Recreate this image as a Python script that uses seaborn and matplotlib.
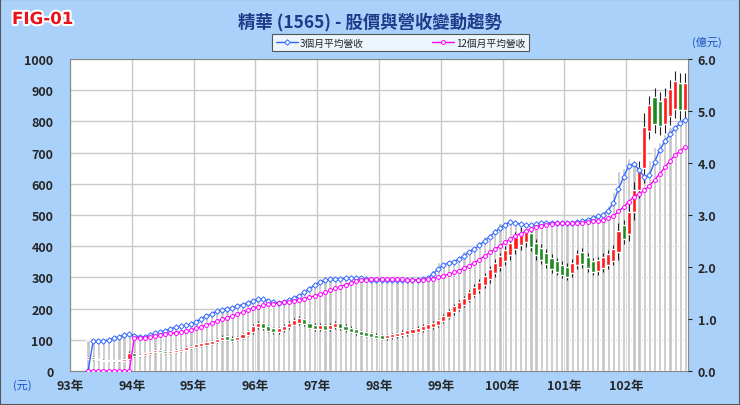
import numpy as np
import pandas as pd
import matplotlib
matplotlib.use("Agg")
import matplotlib.pyplot as plt
import matplotlib.patheffects as pe
import seaborn as sns

sns.set_style("white")
plt.rcParams['font.family'] = ['Noto Sans CJK TC', 'DejaVu Sans']

year_labels = ["93年", "94年", "95年", "96年", "97年", "98年", "99年", "100年", "101年", "102年"]
# monthly revenue (億元), 93/04 .. 102/12
revenue = [
    0.60, 0.55, 0.58, 0.60, 0.62, 0.66, 0.70, 0.72, 0.70,                       # 93
    0.62, 0.66, 0.70, 0.72, 0.75, 0.78, 0.80, 0.85, 0.88, 0.85, 0.90, 0.95,     # 94
    1.00, 1.05, 1.10, 1.15, 1.20, 1.18, 1.22, 1.25, 1.28, 1.30, 1.35, 1.40,     # 95
    1.38, 1.35, 1.32, 1.30, 1.33, 1.36, 1.40, 1.45, 1.50, 1.58, 1.65, 1.72,     # 96
    1.75, 1.76, 1.78, 1.78, 1.77, 1.79, 1.80, 1.78, 1.76, 1.74, 1.75, 1.76,     # 97
    1.75, 1.74, 1.75, 1.76, 1.75, 1.74, 1.75, 1.76, 1.78, 1.85, 1.95, 2.10,     # 98
    2.05, 2.10, 2.15, 2.20, 2.30, 2.35, 2.40, 2.50, 2.60, 2.65, 2.75, 2.85,     # 99
    2.85, 2.88, 2.82, 2.78, 2.80, 2.83, 2.85, 2.86, 2.84, 2.85, 2.86, 2.85,     # 100
    2.85, 2.86, 2.88, 2.90, 2.95, 2.97, 3.00, 3.05, 3.20, 3.45, 3.85, 3.90,     # 101
    4.10, 3.95, 3.55, 3.70, 4.05, 4.30, 4.40, 4.55, 4.70, 4.75, 4.85, 4.90,     # 102
]
# monthly closing price (元)
close = [
    45, 38, 35, 34, 33, 32, 33, 40, 58,
    48, 52, 55, 60, 68, 62, 60, 62, 66, 70, 75, 80,
    82, 86, 90, 95, 102, 108, 104, 100, 108, 118, 125, 145,
    150, 140, 132, 128, 134, 142, 152, 160, 165, 150, 142, 140,
    142, 138, 145, 150, 140, 135, 130, 125, 120, 118, 112, 110,
    108, 112, 115, 118, 122, 126, 130, 135, 140, 145, 150, 160,
    175, 190, 205, 215, 230, 250, 265, 280, 300, 320, 340, 360,
    380, 400, 420, 430, 440, 400, 380, 370, 350, 340, 330, 320,
    317, 345, 370, 355, 340, 330, 345, 350, 365, 380, 450, 440,
    510, 580, 650, 782, 840, 830, 820, 850, 870, 900, 860, 900,
]
open_ = [40] + close[:-1]
months = np.arange(3, 120) + 0.5

df = pd.DataFrame({"m": months, "rev": revenue, "close": close, "open": open_})
df["ma3"] = df["rev"].rolling(3, min_periods=2).mean().fillna(0)
df["ma12"] = df["rev"].rolling(12, min_periods=10).mean().fillna(0)
k = 1000 / 6.0
df["rev_s"] = df["rev"] * k
df["ma3_s"] = df["ma3"] * k
df["ma12_s"] = df["ma12"] * k

fig = plt.figure(figsize=(7.4, 4.06), dpi=100)
fig.patch.set_facecolor("#A9D1FA")
fig.patches.append(plt.Rectangle((0, 0), 1, 1, transform=fig.transFigure, fill=False,
                                 edgecolor="#555555", lw=1.5))
ax = fig.add_axes([70/740, 1-372/406, 618/740, 312/406])
ax.set_facecolor("white")

ax.bar(df["m"], df["rev_s"], width=0.62, color="#C4C4C4", zorder=2)

hi = np.maximum(df["open"], df["close"])
lo = np.minimum(df["open"], df["close"])
mid = (hi + lo) / 2
half = np.maximum((hi - lo) / 2, mid * 0.05)
up = df["close"] >= df["open"]
ax.vlines(df["m"], mid - half * 1.7, mid + half * 1.7, color="#222222", lw=0.8, zorder=3)
ax.bar(df["m"], 2 * half, bottom=mid - half, width=0.8,
       color=np.where(up, "#FF1A1A", "#1E8A1E"), zorder=4)

sns.lineplot(data=df, x="m", y="ma3_s", ax=ax, color="#3366FF", lw=1.0,
             marker="D", markersize=2.8, markerfacecolor="white", markeredgecolor="#3366FF",
             markeredgewidth=0.7, zorder=5, label="3個月平均營收")
sns.lineplot(data=df, x="m", y="ma12_s", ax=ax, color="#FF00FF", lw=1.0,
             marker="o", markersize=2.8, markerfacecolor="white", markeredgecolor="#FF00FF",
             markeredgewidth=0.7, zorder=5, label="12個月平均營收")

ax.set_xlim(0, 120)
ax.set_ylim(0, 1000)
ax.set_xticks(np.arange(0, 120, 12))
ax.set_xticklabels(year_labels)
ax.set_yticks(np.arange(0, 1001, 100))
ax.grid(True, color="#C8C8C8", lw=1)
ax.set_axisbelow(True)
ax.set_xlabel("")
ax.set_ylabel("")
for s in ax.spines.values():
    s.set_color("#888888")
ax.tick_params(axis="y", labelsize=9, length=0, pad=12)
ax.tick_params(axis="x", labelsize=9, length=0, pad=6)
for t in ax.get_xticklabels() + ax.get_yticklabels():
    t.set_fontweight("bold")

ax2 = ax.twinx()
ax2.set_ylim(0, 6)
ax2.set_yticks(np.arange(0, 6.01, 1.0))
ax2.set_yticklabels([f"{v:.1f}" for v in np.arange(0, 6.01, 1.0)])
ax2.tick_params(axis="y", labelsize=9, length=3, pad=4)
for t in ax2.get_yticklabels():
    t.set_fontweight("bold")
for s in ax2.spines.values():
    s.set_visible(False)

leg = ax.legend(loc="upper center", bbox_to_anchor=(0.535, 1.095), ncol=2, fontsize=7,
                frameon=True, fancybox=False, edgecolor="#333333", borderpad=0.35,
                columnspacing=7, handlelength=2.3, handletextpad=0.2)
leg.get_frame().set_linewidth(0.8)

fig.text(12/740, 1-20/406, "FIG-01", color="#E8141B", fontsize=12, fontweight="bold",
         va="center", family=["DejaVu Sans"],
         path_effects=[pe.withStroke(linewidth=3, foreground="white")])
fig.text(370/740, 1-22/406, "精華 (1565) - 股價與營收變動趨勢", color="#1F3A8A",
         fontsize=12.5, ha="center", va="center", fontweight="bold")
fig.text(707/740, 1-42/406, "(億元)", color="#2050C0", fontsize=8, ha="center", va="center")
fig.text(22/740, 1-386/406, "(元)", color="#2050C0", fontsize=8, ha="center", va="center")

fig.savefig("out.png", dpi=100, facecolor=fig.get_facecolor())
